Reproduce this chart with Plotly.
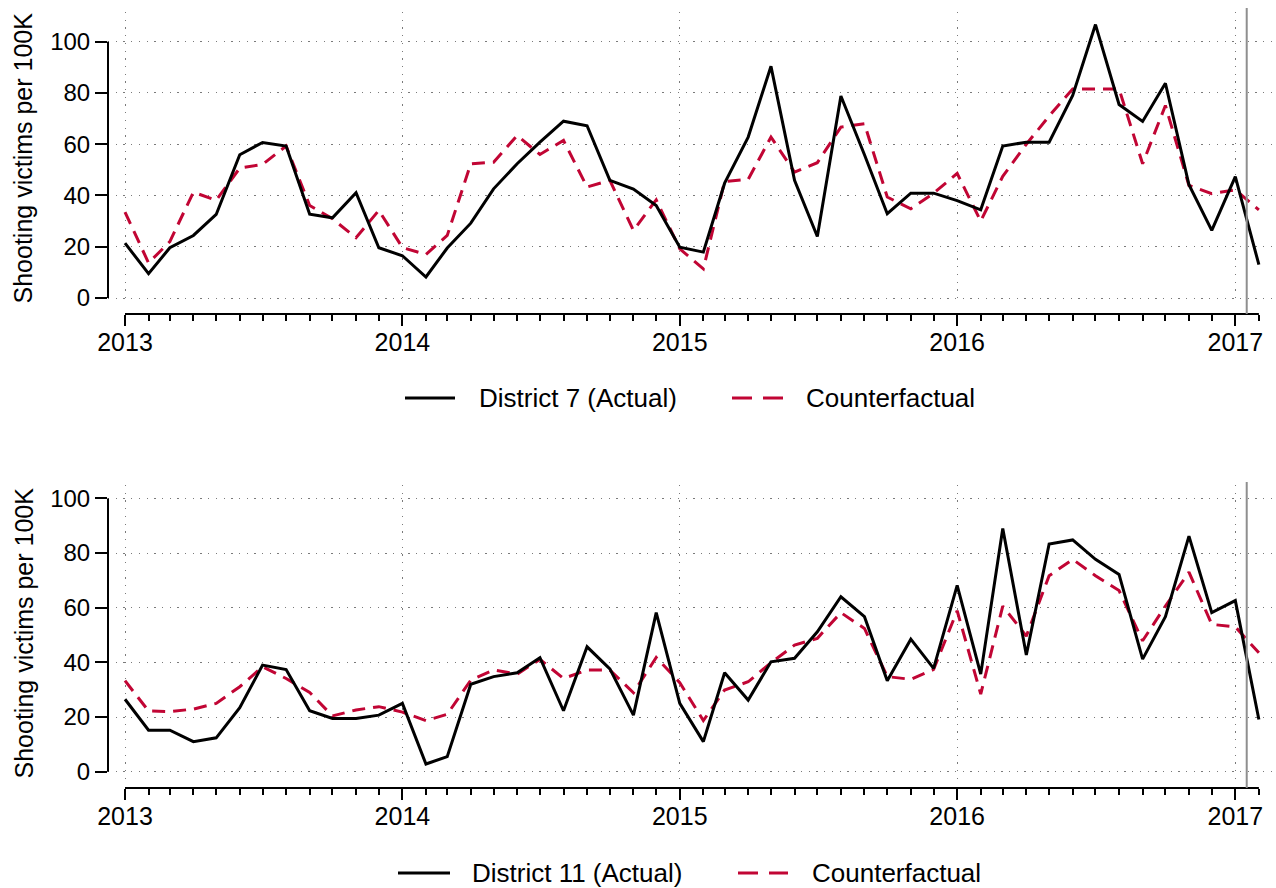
import pandas as pd
import plotly.graph_objects as go

# ---------------- data ----------------
months = pd.date_range("2013-01-01", periods=50, freq="MS")
year_ticks = ["2013-01-01", "2014-01-01", "2015-01-01", "2016-01-01", "2017-01-01"]
year_labels = ["2013", "2014", "2015", "2016", "2017"]
y_ticks = [0, 20, 40, 60, 80, 100]
intervention_date = "2017-01-16"

d7_actual = [21.4, 9.5, 19.6, 24.4, 32.6, 55.9, 60.7, 59.3, 32.7, 31.3, 41.1, 19.6,
             16.5, 8.2, 19.5, 29.2, 42.6, 52.4, 60.8, 69.0, 67.2, 45.9, 42.5, 36.1,
             19.8, 17.9, 44.8, 62.8, 90.4, 45.9, 24.0, 78.8, 55.9, 32.9, 40.9, 40.9,
             38.0, 34.4, 59.3, 60.8, 60.8, 79.0, 106.7, 75.5, 68.9, 83.8, 44.2, 26.4,
             47.4, 13.0]
d7_counter = [33.5, 13.7, 22.0, 41.3, 38.1, 50.7, 52.1, 59.3, 36.1, 30.9, 23.5, 34.2,
              19.7, 17.0, 24.4, 52.4, 53.0, 63.4, 56.0, 61.5, 43.3, 45.9, 26.4, 38.3,
              19.2, 11.4, 45.5, 46.3, 62.8, 49.1, 52.8, 66.7, 68.0, 39.4, 34.8, 40.9,
              48.6, 30.0, 47.5, 60.0, 71.0, 81.6, 81.6, 81.6, 52.4, 75.1, 43.9, 40.7,
              42.2, 34.4]
d11_actual = [26.5, 15.2, 15.2, 11.0, 12.4, 23.4, 39.0, 37.4, 22.3, 19.5, 19.5, 20.7,
              25.0, 2.8, 5.5, 32.0, 34.8, 36.2, 41.7, 22.3, 45.7, 37.6, 20.7, 58.2,
              25.0, 11.0, 36.2, 26.2, 40.2, 41.5, 51.2, 64.0, 56.7, 33.3, 48.5, 37.8,
              68.2, 35.7, 89.0, 42.7, 83.3, 84.8, 77.7, 72.2, 41.2, 56.7, 86.2, 58.2,
              62.6, 19.1]
d11_counter = [33.3, 22.2, 22.0, 22.9, 25.0, 31.1, 38.4, 34.1, 29.0, 20.4, 22.6, 23.8,
               21.8, 18.7, 21.0, 33.5, 37.2, 35.7, 41.1, 34.1, 37.2, 37.2, 28.9, 41.8,
               32.6, 18.7, 29.9, 32.9, 39.9, 46.3, 48.8, 58.2, 52.4, 34.8, 33.8, 37.4,
               58.9, 28.4, 60.6, 49.6, 71.7, 77.7, 71.7, 66.3, 47.9, 60.6, 73.0, 53.9,
               53.0, 43.5]

panels = [
    dict(actual=d7_actual, counter=d7_counter, name="District 7 (Actual)"),
    dict(actual=d11_actual, counter=d11_counter, name="District 11 (Actual)"),
]

# ---------------- style / layout ----------------
W, H = 1276, 888
FONT = "Liberation Sans, Arial, Helvetica, sans-serif"
RED = "#C10534"
GRID = "#7a7a7a"

def px_x(p):
    return p / W

def px_y(p):
    return 1 - p / H

# per-panel pixel geometry: plot area top/bottom, axis line y, y range, legend row
geo = [
    dict(top=12, bot=305, axis=314, yr=[-2.73, 111.6], vtop=8, leg=398,
         l1=(405, 455), t1=477, l2=(732, 784), t2=804),
    dict(top=485, bot=782, axis=788, yr=[-3.77, 104.9], vtop=482, leg=873,
         l1=(398, 450), t1=470, l2=(738, 788), t2=810),
]

x_left, x_right = 108, 1275
xrange = ["2012-12-09 15:00", "2017-02-22 05:00"]

fig = go.Figure()
shapes = []
annotations = []

for i, (p, g) in enumerate(zip(panels, geo)):
    xa = "x" if i == 0 else "x2"
    ya = "y" if i == 0 else "y2"
    xkey = "xaxis" if i == 0 else "xaxis2"
    ykey = "yaxis" if i == 0 else "yaxis2"

    fig.add_trace(go.Scatter(x=months, y=p["counter"], mode="lines", name="Counterfactual",
                             line=dict(color=RED, width=3, dash="13px,8px"),
                             xaxis=xa, yaxis=ya, showlegend=False))
    fig.add_trace(go.Scatter(x=months, y=p["actual"], mode="lines", name=p["name"],
                             line=dict(color="black", width=3),
                             xaxis=xa, yaxis=ya, showlegend=False))

    fig.update_layout(**{
        xkey: dict(
            domain=[px_x(x_left), px_x(x_right)],
            range=xrange, type="date",
            anchor="free", position=px_y(g["axis"]),
            tickmode="array", tickvals=year_ticks, ticktext=year_labels,
            ticks="outside", ticklen=11, tickwidth=2, tickcolor="black",
            ticklabelstandoff=-5,
            showline=False, zeroline=False,
            showgrid=True, gridcolor=GRID, gridwidth=1.3, griddash="1.3px,6.4px",
            tickfont=dict(family=FONT, size=25, color="black"),
            minor=dict(tickmode="array", tickvals=list(months), ticks="outside",
                       ticklen=6, tickwidth=1.5, tickcolor="black", showgrid=False),
            fixedrange=True, automargin=False,
        ),
        ykey: dict(
            domain=[px_y(g["bot"]), px_y(g["top"])],
            range=g["yr"],
            anchor=xa, side="left",
            tickmode="array", tickvals=y_ticks,
            ticks="outside", ticklen=12, tickwidth=2, tickcolor="black",
            showline=False, zeroline=False,
            showgrid=True, gridcolor=GRID, gridwidth=1.3, griddash="1.3px,6.4px",
            tickfont=dict(family=FONT, size=24, color="black"),
            fixedrange=True, automargin=False,
        ),
    })

    # axis lines spanning only the data / tick range (Stata style)
    shapes.append(dict(type="line", xref=xa, yref="paper",
                       x0=months[0], x1=months[-1],
                       y0=px_y(g["axis"]), y1=px_y(g["axis"]),
                       line=dict(color="black", width=2)))
    shapes.append(dict(type="line", xref="paper", yref=ya,
                       x0=px_x(x_left), x1=px_x(x_left),
                       y0=y_ticks[0], y1=y_ticks[-1],
                       line=dict(color="black", width=2)))
    # intervention line
    shapes.append(dict(type="line", xref=xa, yref="paper",
                       x0=intervention_date, x1=intervention_date,
                       y0=px_y(g["axis"]), y1=px_y(g["vtop"]),
                       line=dict(color="#8f8f8f", width=2)))

    # y-axis title
    annotations.append(dict(text="Shooting victims per 100K", xref="paper", yref="paper",
                            x=px_x(23), y=px_y((g["top"] + g["bot"]) / 2),
                            xanchor="center", yanchor="middle", textangle=-90,
                            showarrow=False, font=dict(family=FONT, size=25, color="black")))

    # legend (manual, bottom-centred)
    ly = px_y(g["leg"])
    shapes.append(dict(type="line", xref="paper", yref="paper",
                       x0=px_x(g["l1"][0]), x1=px_x(g["l1"][1]), y0=ly, y1=ly,
                       line=dict(color="black", width=3)))
    shapes.append(dict(type="line", xref="paper", yref="paper",
                       x0=px_x(g["l2"][0]), x1=px_x(g["l2"][1]), y0=ly, y1=ly,
                       line=dict(color=RED, width=3, dash="20px,11px")))
    annotations.append(dict(text=p["name"], xref="paper", yref="paper",
                            x=px_x(g["t1"]), y=ly, xanchor="left", yanchor="middle",
                            showarrow=False, font=dict(family=FONT, size=26, color="black")))
    annotations.append(dict(text="Counterfactual", xref="paper", yref="paper",
                            x=px_x(g["t2"]), y=ly, xanchor="left", yanchor="middle",
                            showarrow=False, font=dict(family=FONT, size=26, color="black")))

fig.update_layout(
    width=W, height=H,
    margin=dict(l=0, r=0, t=0, b=0, autoexpand=False),
    paper_bgcolor="white", plot_bgcolor="white",
    showlegend=False,
    shapes=shapes, annotations=annotations,
    font=dict(family=FONT, color="black"),
)

fig.write_html("out.html",
               config={"displayModeBar": False},
               post_script="document.body.style.margin='0';document.body.style.overflow='hidden';")
